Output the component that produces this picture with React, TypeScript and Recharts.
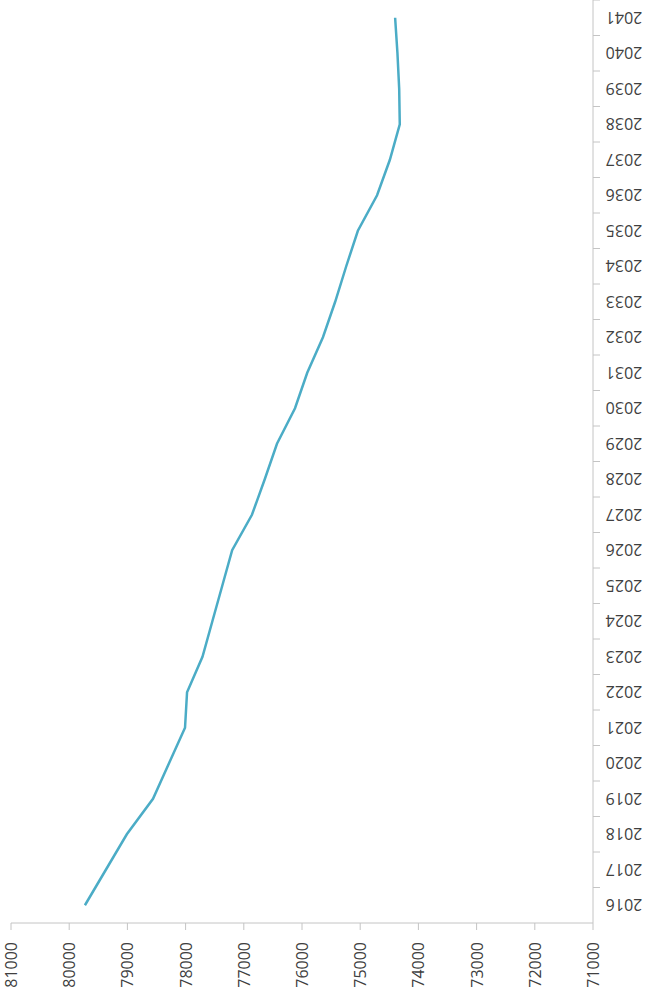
import { LineChart, Line, XAxis, YAxis } from 'recharts';

const years = [
  '2016', '2017', '2018', '2019', '2020', '2021', '2022', '2023', '2024',
  '2025', '2026', '2027', '2028', '2029', '2030', '2031', '2032', '2033',
  '2034', '2035', '2036', '2037', '2038', '2039', '2040', '2041',
];

const population = [
  79730, 79370, 79010, 78560, 78285, 78010, 77975, 77710, 77540,
  77370, 77200, 76860, 76640, 76430, 76120, 75910, 75640, 75430,
  75240, 75040, 74710, 74490, 74320, 74330, 74360, 74400,
];

const valueTicks = [71000, 72000, 73000, 74000, 75000, 76000, 77000, 78000, 79000, 80000, 81000];

const data = years.map((year, i) => ({ year, value: population[i] }));

const AXIS_COLOR = '#c4c4c4';
const TEXT_COLOR = '#404040';
const FONT = '"Open Sans", sans-serif';
const WIDTH = 649;
const HEIGHT = 1005;
const PLOT_HEIGHT = 923;
const BAND = PLOT_HEIGHT / years.length;

const ValueTick = ({ x, y, payload }: any) => (
  <text
    x={x}
    y={y}
    textAnchor="end"
    dominantBaseline="central"
    transform={`rotate(-90, ${x}, ${y})`}
    fill={TEXT_COLOR}
    fontSize={16}
    fontFamily={FONT}
  >
    {payload.value}
  </text>
);

const YearTick = ({ x, y, payload }: any) => {
  const cx = x + 31;
  return (
    <g>
      <line x1={x} y1={y - BAND / 2} x2={x + 7} y2={y - BAND / 2} stroke={AXIS_COLOR} />
      <text
        x={cx}
        y={y}
        textAnchor="middle"
        dominantBaseline="central"
        transform={`rotate(180, ${cx}, ${y})`}
        fill={TEXT_COLOR}
        fontSize={16}
        fontFamily={FONT}
      >
        {payload.value}
      </text>
    </g>
  );
};

export default function App() {
  return (
    <div style={{ width: WIDTH, height: HEIGHT, background: '#fff' }}>
      <style>{'body { margin: 0; }'}</style>
      <LineChart
        width={WIDTH}
        height={HEIGHT}
        data={data}
        layout="vertical"
        margin={{ top: 0, right: 0, bottom: 0, left: 11 }}
      >
        <XAxis
          type="number"
          dataKey="value"
          domain={[71000, 81000]}
          ticks={valueTicks}
          reversed
          height={HEIGHT - PLOT_HEIGHT}
          stroke={AXIS_COLOR}
          tickSize={7}
          tickMargin={12}
          tick={<ValueTick />}
          interval={0}
        />
        <YAxis
          type="category"
          dataKey="year"
          orientation="right"
          reversed
          width={56}
          padding={{ top: BAND / 2, bottom: BAND / 2 }}
          stroke={AXIS_COLOR}
          tickLine={false}
          tickSize={0}
          tickMargin={0}
          tick={<YearTick />}
          interval={0}
        />
        <Line
          dataKey="value"
          stroke="#4bacc6"
          strokeWidth={2.5}
          dot={false}
          isAnimationActive={false}
        />
      </LineChart>
    </div>
  );
}
